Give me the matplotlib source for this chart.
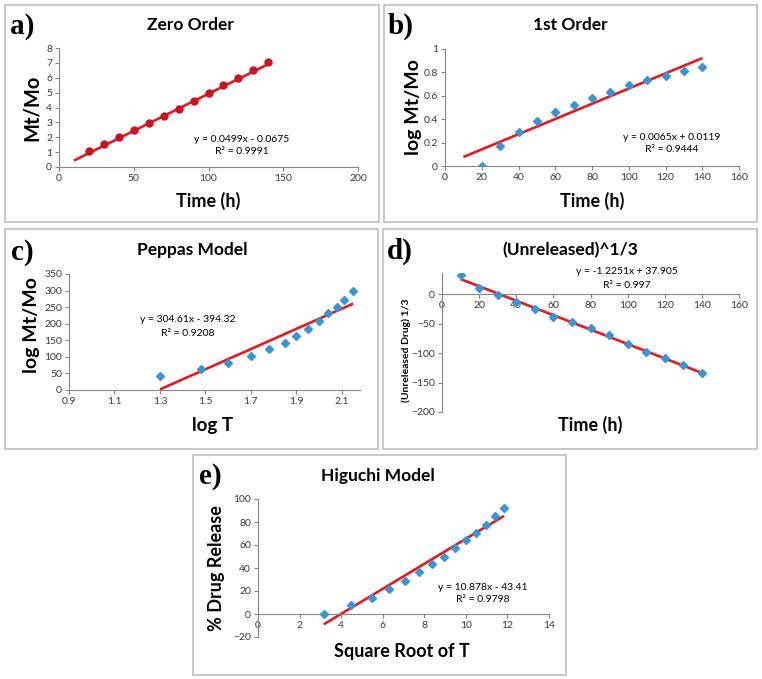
"""
Release kinetics fits: zero order, first order, Peppas, Hixson-Crowell and Higuchi
"""
import matplotlib
matplotlib.use("Agg")
import matplotlib.pyplot as plt
from matplotlib.patches import Rectangle
from matplotlib.ticker import FormatStrFormatter
import numpy as np

W, H = 762, 679

# a) zero order
time_a = [20, 30, 40, 50, 60, 70, 80, 90, 100, 110, 120, 130, 140]
mt_mo = [1.05, 1.55, 2.0, 2.5, 2.95, 3.4, 3.9, 4.45, 5.0, 5.5, 5.95, 6.5, 7.05]
fit_a = (0.0499, -0.0675)
span_a = [10, 140]

# b) first order
time_b = [20, 30, 40, 50, 60, 70, 80, 90, 100, 110, 120, 130, 140]
log_mt_mo = [0.0, 0.17, 0.29, 0.385, 0.465, 0.525, 0.58, 0.635, 0.69, 0.735, 0.77, 0.81, 0.845]
fit_b = (0.0065, 0.0119)
span_b = [10, 140]

# c) Peppas
log_t = [1.30, 1.48, 1.60, 1.70, 1.78, 1.85, 1.90, 1.95, 2.00, 2.04, 2.08, 2.11, 2.15]
peppas_y = [42, 63, 82, 103, 125, 141, 162, 183, 207, 232, 250, 273, 298]
fit_c = (304.61, -394.32)
span_c = [1.30, 2.15]

# d) cube root of unreleased drug
time_d = [10, 20, 30, 40, 50, 60, 70, 80, 90, 100, 110, 120, 130, 140]
unreleased = [32, 10, -2, -14, -25, -38, -47, -57, -70, -84, -98, -108, -121, -134]
fit_d = (-1.2251, 37.905)
span_d = [10, 140]

# e) Higuchi
sqrt_t = [3.16, 4.47, 5.48, 6.32, 7.07, 7.75, 8.37, 8.94, 9.49, 10.0, 10.49, 10.95, 11.40, 11.83]
release = [0, 7.5, 14, 21.5, 29, 36.5, 43.5, 50, 57, 64, 70.5, 77.5, 85, 92]
fit_e = (10.878, -43.41)
span_e = [3.16, 11.83]

FONT = "Lato"
BLUE = "#3B95D4"
RED = "#E8191C"
DARK_RED = "#C8141E"
GRAY = "#BFBFBF"
AXGRAY = "#868686"
XLAB = 13
YLAB = 14

fig = plt.figure(figsize=(W / 100, H / 100), dpi=100)
fig.patch.set_facecolor("white")


def fx(px):
    return px / W


def fy(py):
    return 1 - py / H


def box(x0, y0, x1, y1):
    fig.patches.append(Rectangle((fx(x0), fy(y1)), fx(x1 - x0), (y1 - y0) / H,
                                 transform=fig.transFigure, fill=False,
                                 edgecolor=GRAY, lw=1.2))


def axes_px(x0, y0, x1, y1):
    ax = fig.add_axes([fx(x0), fy(y1), fx(x1 - x0), (y1 - y0) / H])
    ax.set_facecolor("none")
    for s in ("top", "right"):
        ax.spines[s].set_visible(False)
    for s in ("left", "bottom"):
        ax.spines[s].set_color(AXGRAY)
        ax.spines[s].set_linewidth(0.8)
    ax.tick_params(length=3, width=0.8, color=AXGRAY, labelsize=7.5,
                   labelcolor="#3a3a3a", pad=2)
    return ax


def ftext(x, y, s, size, **kw):
    kw.setdefault("ha", "center")
    kw.setdefault("va", "center")
    kw.setdefault("family", FONT)
    fig.text(fx(x), fy(y), s, fontsize=size, **kw)


def trend(ax, span, fit):
    xs = np.array(span)
    ax.plot(xs, fit[0] * xs + fit[1], color=RED, lw=1.9, zorder=2, solid_capstyle="butt")


def fonts(ax):
    for lab in ax.get_xticklabels() + ax.get_yticklabels():
        lab.set_fontfamily(FONT)


# panel boxes
box(5, 5, 379, 222)
box(384, 5, 757, 222)
box(5, 229, 378, 449)
box(383, 229, 757, 449)
box(193, 455, 566, 675)

# a)
ax = axes_px(59, 48, 358, 167)
trend(ax, span_a, fit_a)
ax.plot(time_a, mt_mo, "o", color=DARK_RED, ms=5, zorder=3)
ax.set_xlim(0, 200)
ax.set_ylim(0, 8)
ax.set_xticks(np.arange(0, 201, 50))
ax.set_yticks(np.arange(0, 9, 1))
fonts(ax)
ftext(22, 26, "a)", 21, family="Liberation Serif", weight="bold")
ftext(190, 25, "Zero Order", 12.5, weight="bold")
ftext(208, 201, "Time (h)", XLAB, weight="bold")
ftext(32, 108, "Mt/Mo", YLAB + 0.5, weight="bold", rotation=90)
ftext(242, 140, "y = 0.0499x - 0.0675", 7.5)
ftext(242, 152, "R² = 0.9991", 7.5)

# b)
ax = axes_px(445, 49, 739, 166)
trend(ax, span_b, fit_b)
ax.plot(time_b, log_mt_mo, "D", color=BLUE, ms=4.5, zorder=3)
ax.set_xlim(0, 160)
ax.set_ylim(0, 1)
ax.set_xticks(np.arange(0, 161, 20))
ax.set_yticks([0, 0.2, 0.4, 0.6, 0.8, 1])
ax.yaxis.set_major_formatter(plt.FuncFormatter(lambda v, p: f"{v:g}"))
fonts(ax)
ftext(401, 26, "b)", 21, family="Liberation Serif", weight="bold")
ftext(570, 25, "1st Order", 12.5, weight="bold")
ftext(592, 201, "Time (h)", XLAB, weight="bold")
ftext(413, 107, "log Mt/Mo", YLAB, weight="bold", rotation=90)
ftext(672, 138, "y = 0.0065x + 0.0119", 7.5)
ftext(672, 150, "R² = 0.9444", 7.5)

# c)
ax = axes_px(69, 274, 360, 390)
trend(ax, span_c, fit_c)
ax.plot(log_t, peppas_y, "D", color=BLUE, ms=4.5, zorder=3)
ax.set_xlim(0.9, 2.18)
ax.set_ylim(0, 350)
ax.set_xticks([0.9, 1.1, 1.3, 1.5, 1.7, 1.9, 2.1])
ax.xaxis.set_major_formatter(FormatStrFormatter("%.1f"))
ax.set_yticks(np.arange(0, 351, 50))
fonts(ax)
ftext(22, 252, "c)", 21, family="Liberation Serif", weight="bold")
ftext(192, 250, "Peppas Model", 12.5, weight="bold")
ftext(213, 425, "log T", XLAB + 0.5, weight="bold")
ftext(32, 325, "log Mt/Mo", YLAB, weight="bold", rotation=90)
ftext(188, 319, "y = 304.61x - 394.32", 7.5)
ftext(188, 333, "R² = 0.9208", 7.5)

# d)
ax = axes_px(442, 273, 739, 412)
trend(ax, span_d, fit_d)
ax.plot(time_d, unreleased, "D", color=BLUE, ms=4.5, zorder=3)
ax.set_xlim(0, 160)
ax.set_ylim(-200, 36)
ax.spines["bottom"].set_position(("data", 0))
ax.set_xticks(np.arange(0, 161, 20))
ax.set_yticks(np.arange(-200, 1, 50))
fonts(ax)
ftext(400, 251, "d)", 21, family="Liberation Serif", weight="bold")
ftext(570, 250, "(Unreleased)^1/3", 12.5, weight="bold")
ftext(590, 425, "Time (h)", XLAB, weight="bold")
ftext(406, 350, "(Unreleased Drug) 1/3", 7.5, weight="bold", rotation=90)
ftext(627, 272, "y = -1.2251x + 37.905", 7.5)
ftext(627, 285, "R² = 0.997", 7.5)

# e)
ax = axes_px(258, 499, 549, 637)
trend(ax, span_e, fit_e)
ax.plot(sqrt_t, release, "D", color=BLUE, ms=4.5, zorder=3)
ax.set_xlim(0, 14)
ax.set_ylim(-20, 100)
ax.spines["bottom"].set_position(("data", 0))
ax.set_xticks(np.arange(0, 15, 2))
ax.set_yticks(np.arange(-20, 101, 20))
fonts(ax)
ftext(210, 477, "e)", 21, family="Liberation Serif", weight="bold")
ftext(378, 476, "Higuchi Model", 12.5, weight="bold")
ftext(402, 651, "Square Root of T", XLAB, weight="bold")
ftext(217, 568, "% Drug Release", YLAB - 1, weight="bold", rotation=90)
ftext(483, 587, "y = 10.878x - 43.41", 7.5)
ftext(483, 599, "R² = 0.9798", 7.5)

fig.savefig("out.png", dpi=100, facecolor="white")
